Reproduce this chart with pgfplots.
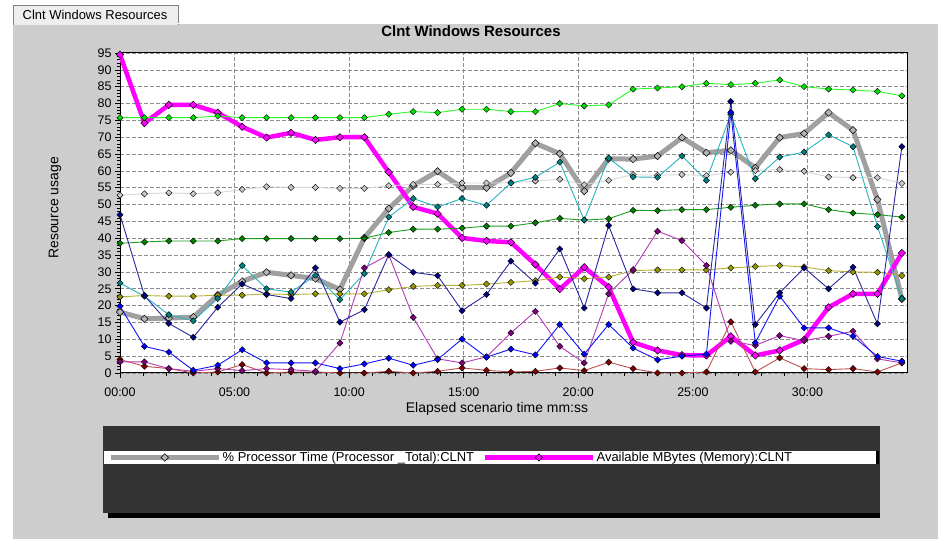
\documentclass[border=0pt]{standalone}
\usepackage{pgfplots}
\pgfplotsset{compat=1.18}
\usepackage{pgfplotstable}
\usepackage{fontspec}
\setmainfont{Liberation Sans}

\definecolor{panel}{RGB}{205,205,205}
\definecolor{tabgray}{RGB}{238,238,238}
\definecolor{legdark}{RGB}{51,51,51}
\definecolor{gridgray}{RGB}{140,140,140}
\definecolor{procgray}{RGB}{160,160,160}
\definecolor{procmark}{RGB}{180,180,180}
\definecolor{memmag}{RGB}{255,0,255}
\definecolor{limeln}{RGB}{40,250,40}
\definecolor{limemk}{RGB}{0,225,0}
\definecolor{lgrayln}{RGB}{215,215,215}
\definecolor{lgraymk}{RGB}{200,200,200}
\definecolor{dgreenln}{RGB}{30,160,30}
\definecolor{dgreenmk}{RGB}{0,128,0}
\definecolor{oliveln}{RGB}{180,180,50}
\definecolor{olivemk}{RGB}{150,150,0}
\definecolor{tealln}{RGB}{40,180,190}
\definecolor{tealmk}{RGB}{0,128,128}
\definecolor{navyln}{RGB}{40,40,160}
\definecolor{navymk}{RGB}{0,0,128}
\definecolor{blueln}{RGB}{20,20,255}
\definecolor{bluemk}{RGB}{0,0,255}
\definecolor{purpleln}{RGB}{180,60,180}
\definecolor{purplemk}{RGB}{128,0,128}
\definecolor{dredln}{RGB}{190,80,80}
\definecolor{dredmk}{RGB}{128,0,0}

% one sample about every 64 s; column i is the sample number
\pgfplotstableread{
i  proc mem  lime lgray dgreen olive teal navy blue purple dred
0  18.1 94.5 75.8 52.8 38.5 22.6 26.7 47.0 19.8 3.3  4.0
1  16.1 74.2 75.8 53.2 38.9 23.0 22.8 23.0 7.9  3.3  2.0
2  16.3 79.6 75.8 53.5 39.2 22.8 17.3 14.7 6.2  1.3  1.3
3  16.6 79.6 75.8 53.2 39.2 22.8 15.5 10.6 0.8  0.5  0.0
4  23.1 77.3 76.3 53.5 39.2 23.1 22.1 19.5 2.3  1.3  0.3
5  27.2 73.1 75.8 54.5 39.9 23.1 31.9 26.4 6.9  0.7  2.5
6  29.9 69.9 75.8 55.3 39.9 23.5 25.0 23.3 3.0  1.3  0.0
7  29.0 71.3 75.8 55.1 39.9 23.3 24.0 22.1 3.0  1.0  0.3
8  28.0 69.2 75.8 55.1 39.9 23.5 29.0 31.2 3.0  0.5  0.3
9  24.8 70.0 75.8 54.8 39.9 23.5 21.8 15.1 1.3  8.9  0.0
10 40.1 70.0 75.8 54.8 40.0 23.5 29.5 18.8 2.7  31.2 0.0
11 48.8 59.6 76.8 55.6 41.7 24.7 46.3 35.1 4.4  35.1 0.5
12 55.6 49.3 77.6 56.0 42.7 25.7 51.8 29.9 2.3  16.5 0.0
13 59.9 47.3 77.3 56.0 42.7 26.0 49.3 28.9 4.0  4.2  0.5
14 55.0 40.1 78.3 56.4 43.0 26.0 51.8 18.5 10.1 3.0  1.5
15 55.0 39.2 78.3 56.4 43.6 26.4 49.8 23.3 4.7  4.8  0.8
16 59.4 38.8 77.6 56.5 43.6 26.9 56.4 33.2 7.1  11.9 0.3
17 68.2 32.2 77.6 57.0 44.6 27.4 58.1 26.7 5.4  18.3 0.5
18 65.1 24.9 80.0 57.5 45.9 28.5 62.6 36.8 14.4 7.9  1.5
19 54.0 31.4 79.3 55.9 45.4 28.0 45.4 19.3 5.6  3.0  0.7
20 63.6 25.5 79.6 57.2 45.8 28.5 63.8 43.8 14.4 23.5 3.2
21 63.5 9.1  84.3 58.9 48.3 30.4 58.2 25.0 7.4  30.7 1.3
22 64.4 6.7  84.6 58.7 48.2 30.6 58.1 23.8 3.9  42.1 0.0
23 69.9 5.3  85.0 58.9 48.5 30.6 64.4 23.8 5.0  39.3 0.0
24 65.4 5.2  86.0 58.6 48.5 30.6 57.2 19.3 5.6  31.9 0.3
25 66.1 10.9 85.6 59.6 49.2 31.2 76.8 80.6 77.4 9.4  15.2
26 60.9 5.2  86.0 60.1 49.8 31.6 57.7 14.4 9.0  8.2  0.3
27 69.9 6.7  87.0 60.4 50.2 31.9 64.1 23.8 22.8 11.1 4.5
28 71.1 9.9  85.0 59.9 50.2 31.5 65.6 31.2 13.4 9.6  1.3
29 77.3 19.5 84.3 58.2 48.5 30.4 70.7 25.0 13.4 10.9 1.0
30 72.1 23.5 84.0 58.0 47.5 30.0 67.2 31.4 10.9 12.4 1.3
31 51.5 23.5 83.6 58.0 47.0 29.9 43.5 14.6 4.9  4.2  0.3
32 22.0 35.6 82.3 56.3 46.3 28.9 22.1 67.2 3.5  3.0  3.0
}\res

\pgfplotsset{
  counter/.style 2 args={color=#1, line width=0.9bp, mark=square*,
    mark options={rotate=45, fill=#2, draw=black, line width=0.4bp, mark size=2.2bp, solid},
    forget plot},
}

\begin{document}
\begin{tikzpicture}
\useasboundingbox (0,0) rectangle (938bp,539bp);
\fill[white] (0,0) rectangle (938bp,539bp);
\fill[panel] (13bp,0) rectangle (938bp,515bp);
% tab
\filldraw[fill=tabgray, draw=gray, line width=0.8bp] (13bp,514bp) -- (13bp,534bp) -- (178bp,534bp) -- (178bp,514bp);
\draw[white, line width=1bp] (178bp,515bp) -- (938bp,515bp);
\node[font=\fontsize{13}{15}\selectfont] at (95bp,524bp) {Clnt Windows Resources};
% legend panel
\fill[black] (108bp,21bp) rectangle (880bp,26bp);
\fill[legdark] (103bp,26bp) rectangle (880bp,113bp);
\fill[white] (104bp,75bp) rectangle (876bp,88bp);
\fill[black] (876bp,75bp) rectangle (879bp,88bp);

\begin{axis}[
  at={(120bp,166bp)}, anchor=south west,
  scale only axis, width=787bp, height=320bp,
  xmin=0, xmax=32.21, ymin=0, ymax=95,
  xtick={0,4.689,9.378,14.067,18.756,23.445,28.134},
  xticklabels={00:00,05:00,10:00,15:00,20:00,25:00,30:00},
  minor x tick num=4,
  ytick={0,5,...,95},
  minor y tick num=4,
  tick pos=left, tick align=outside,
  major tick length=5bp, minor tick length=3bp,
  tick style={black, line width=0.6bp},
  xmajorgrids, ymajorgrids,
  major grid style={gridgray, dash pattern=on 3.5bp off 2.5bp, line width=0.6bp},
  axis line style={black, line width=1bp},
  axis background/.style={fill=white},
  /pgf/number format/assume math mode=true,
  tick label style={font=\fontsize{12.5}{14}\selectfont},
  xticklabel style={yshift=-6bp},
  title={Clnt Windows Resources},
  title style={at={(axis description cs:0.446,1.05)}, anchor=center,
    font=\bfseries\fontsize{15}{17}\selectfont},
  xlabel={Elapsed scenario time mm:ss},
  xlabel style={at={(axis description cs:0.479,-0.1125)}, anchor=center,
    font=\fontsize{14}{16}\selectfont},
  ylabel={Resource usage},
  ylabel style={at={(axis description cs:-0.0826,0.516)}, anchor=center,
    font=\fontsize{14}{16}\selectfont},
  legend columns=2,
  legend style={at={(-0.0152,-0.264)}, anchor=west, draw=none, fill=none,
    inner sep=0pt, font=\fontsize{13}{14}\selectfont,
    nodes={inner sep=1.5bp},
    /tikz/every even column/.append style={column sep=7bp}},
  legend image code/.code={
    \draw[mark repeat=2, mark phase=2, #1] plot coordinates {(0bp,0bp) (54bp,0bp) (108bp,0bp)};},
]
\addplot[color=procgray, line width=5bp, mark=square*,
  mark options={rotate=45, fill=procmark, draw=black, line width=0.5bp, mark size=2.6bp}]
  table[x=i, y=proc] {\res};
\addlegendentry{\% Processor Time (Processor \_Total):CLNT}
\addplot[color=memmag, line width=4.5bp, mark=square*,
  mark options={rotate=45, fill=memmag, draw=black, line width=0.5bp, mark size=2.6bp}]
  table[x=i, y=mem] {\res};
\addlegendentry{Available MBytes (Memory):CLNT}

\addplot[counter={limeln}{limemk}] table[x=i, y=lime] {\res};
\addplot[counter={lgrayln}{lgraymk}] table[x=i, y=lgray] {\res};
\addplot[counter={dgreenln}{dgreenmk}] table[x=i, y=dgreen] {\res};
\addplot[counter={oliveln}{olivemk}] table[x=i, y=olive] {\res};
\addplot[counter={tealln}{tealmk}] table[x=i, y=teal] {\res};
\addplot[counter={dredln}{dredmk}] table[x=i, y=dred] {\res};
\addplot[counter={purpleln}{purplemk}] table[x=i, y=purple] {\res};
\addplot[counter={blueln}{bluemk}] table[x=i, y=blue] {\res};
\addplot[counter={navyln}{navymk}] table[x=i, y=navy] {\res};
\end{axis}
\end{tikzpicture}
\end{document}
